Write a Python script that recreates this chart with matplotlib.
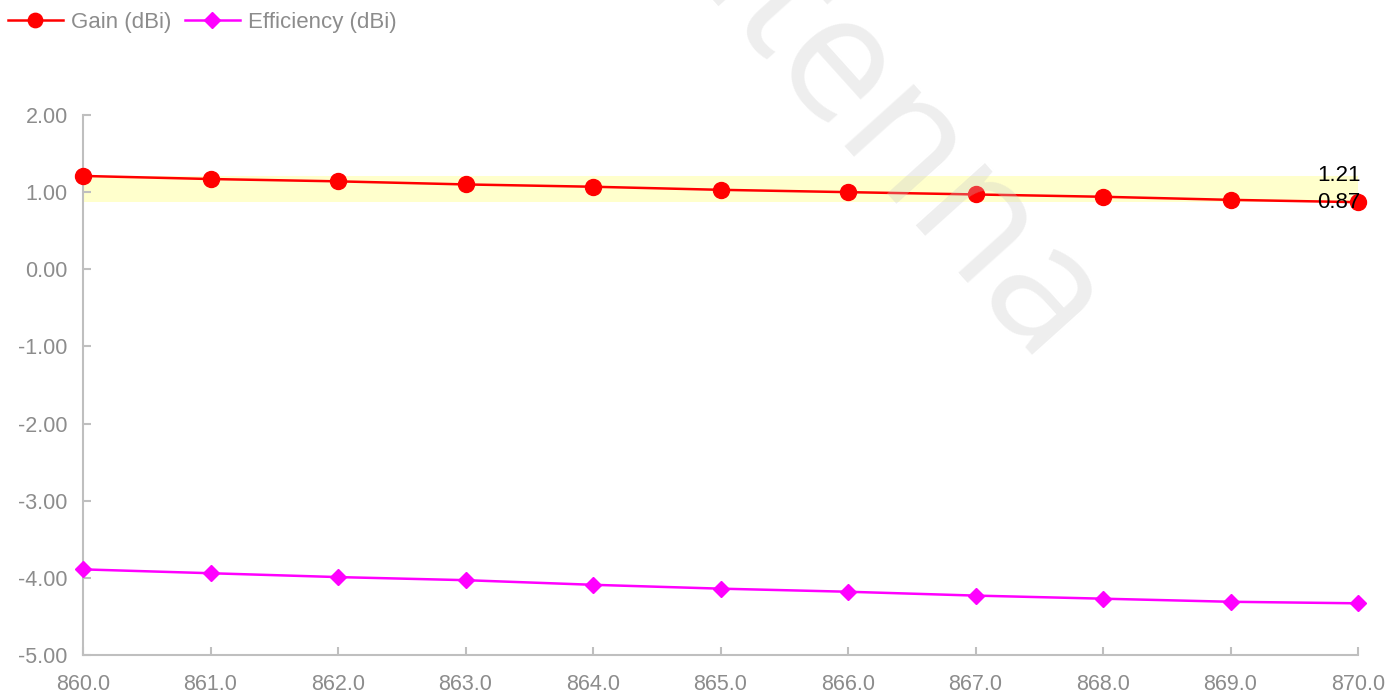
import numpy as np
import matplotlib
matplotlib.use("Agg")
import matplotlib.pyplot as plt

# frequency sweep (MHz)
freqs = [860.0, 861.0, 862.0, 863.0, 864.0, 865.0, 866.0, 867.0, 868.0, 869.0, 870.0]
gain = [1.21, 1.17, 1.14, 1.10, 1.07, 1.03, 1.00, 0.97, 0.94, 0.90, 0.87]
efficiency = [-3.89, -3.94, -3.99, -4.03, -4.09, -4.14, -4.18, -4.23, -4.27, -4.31, -4.33]
yticks = [2.0, 1.0, 0.0, -1.0, -2.0, -3.0, -4.0, -5.0]

plt.rcParams['font.family'] = ['Liberation Sans', 'DejaVu Sans']

fig = plt.figure(figsize=(13.87, 6.95), dpi=100)
ax = fig.add_axes([83 / 1387, 1 - 655 / 695, (1358 - 83) / 1387, (655 - 115) / 695])

g_min, g_max = min(gain), max(gain)
ax.axhspan(g_min, g_max, color='#ffffcc', zorder=1, lw=0)

ax.plot(freqs, gain, color='#ff0000', lw=1.8, marker='o', ms=11.5,
        label='Gain (dBi)', zorder=3, clip_on=False)
ax.plot(freqs, efficiency, color='#ff00ff', lw=1.8, marker='D', ms=8.5,
        label='Efficiency (dBi)', zorder=3, clip_on=False)

for v in (g_max, g_min):
    ax.annotate(f'{v:.2f}', (freqs[-1], v), xytext=(2, 0),
                textcoords='offset points', ha='right', va='center',
                fontsize=16, color='black', zorder=5)

ax.set_xlim(860, 870)
ax.set_ylim(-5, 2)
ax.set_xticks(freqs)
ax.set_xticklabels([f'{f:.1f}' for f in freqs])
ax.set_yticks(yticks)
ax.set_yticklabels([f'{v:.2f}' for v in yticks])

for s in ['top', 'right']:
    ax.spines[s].set_visible(False)
for s in ['left', 'bottom']:
    ax.spines[s].set_color('#bfbfbf')
    ax.spines[s].set_linewidth(1.5)
ax.tick_params(axis='both', direction='in', length=6, width=1.5,
               color='#bfbfbf', labelcolor='#8c8c8c', labelsize=15.5)
ax.tick_params(axis='y', pad=11)
ax.tick_params(axis='x', pad=14)

fig.legend(loc='upper left', bbox_to_anchor=(-0.009, 1.012), ncol=2,
           frameon=False, fontsize=16, labelcolor='#8c8c8c',
           handlelength=2.5, handletextpad=0.35, columnspacing=0.6,
           markerscale=0.9)

# faint watermark
fig.text(845 / 1387, 1 - 80 / 695, 'Antenna', fontsize=125, family='Open Sans',
         color='#c8c8c8', alpha=0.3, rotation=-48, rotation_mode='anchor',
         ha='center', va='center', zorder=10)

fig.savefig('out.png', dpi=100)
